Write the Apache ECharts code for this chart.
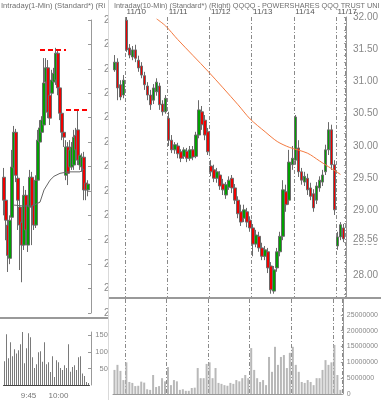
<!DOCTYPE html>
<html><head><meta charset="utf-8">
<script src="https://cdn.jsdelivr.net/npm/echarts@6/dist/echarts.min.js"></script>
<style>html,body{margin:0;padding:0;background:#fff}#c{width:381px;height:400px}</style>
</head><body><div id="c"></div>
<script>
const FONT = "'Liberation Sans',Arial,sans-serif";

// ---------- left panel: 1-minute bars (11/17) ----------
const leftTitle = 'Intraday(1-Min) (Standard*) (Ri';
const leftTimes = ['9:33','9:34','9:35','9:36','9:37','9:38','9:39','9:40','9:41','9:42','9:43','9:44','9:45','9:46','9:47','9:48','9:49','9:50','9:51','9:52','9:53','9:54','9:55','9:56','9:57','9:58','9:59','10:00','10:01','10:02','10:03','10:04','10:05','10:06','10:07','10:08','10:09','10:10','10:11','10:12','10:13','10:14','10:15'];
const leftTickLabels = ['9:45','10:00'];
// [open, close, low, high]
const leftCandles = [
 [28.678,28.631,28.600,28.697],[28.631,28.590,28.549,28.641],[28.580,28.518,28.484,28.594],[28.512,28.590,28.500,28.600],
 [28.596,28.699,28.590,28.734],[28.697,28.770,28.689,28.783],[28.770,28.682,28.668,28.777],[28.676,28.631,28.570,28.682],
 [28.617,28.580,28.488,28.666],[28.586,28.539,28.463,28.600],[28.539,28.641,28.529,28.660],[28.641,28.570,28.545,28.652],
 [28.539,28.621,28.525,28.635],[28.617,28.678,28.555,28.693],[28.678,28.617,28.539,28.689],[28.621,28.580,28.570,28.631],
 [28.580,28.672,28.574,28.682],[28.672,28.754,28.662,28.775],[28.750,28.779,28.734,28.795],[28.770,28.795,28.754,28.803],
 [28.785,28.871,28.775,28.922],[28.873,28.902,28.857,28.922],[28.902,28.811,28.799,28.918],[28.846,28.799,28.785,28.861],
 [28.850,28.877,28.840,28.898],[28.873,28.891,28.857,28.902],[28.877,28.932,28.867,28.943],[28.932,28.861,28.846,28.939],
 [28.861,28.809,28.795,28.867],[28.809,28.770,28.754,28.820],[28.770,28.760,28.740,28.779],[28.682,28.740,28.672,28.754],
 [28.740,28.686,28.662,28.750],[28.699,28.734,28.689,28.754],[28.699,28.740,28.693,28.750],[28.703,28.760,28.693,28.775],
 [28.764,28.734,28.713,28.779],[28.775,28.713,28.703,28.816],[28.703,28.723,28.693,28.734],[28.699,28.719,28.689,28.727],
 [28.719,28.652,28.631,28.730],[28.666,28.652,28.631,28.676],[28.652,28.664,28.639,28.672]
];
// moving average read at a few bars: [bar index, value]
const leftMA = [[5,28.621],[10,28.619],[14,28.619],[18,28.627],[20,28.652],[23,28.672],[25,28.680],[28,28.686],[32,28.689],[38,28.689],[40,28.695]];
const leftVolume = [718,1530,810,1290,870,1080,950,1050,1230,1770,660,1110,1560,1440,840,510,630,990,1020,700,1290,630,690,390,870,240,750,690,510,450,600,510,1230,400,540,600,450,840,870,350,270,90,60];
const leftLevels = [{start:'9:51', end:'10:04', price:28.939},{start:'10:04', end:'10:15', price:28.816}];
const leftPriceRange = [28.40, 29.00, 0.05];
const leftVolumeRange = [0, 1600, 500];

// ---------- right panel: intraday bars, several days ----------
const rightTitle = 'Intraday(10-Min) (Standard*) (Right) QQQQ - POWERSHARES QQQ TRUST UNI';
const days = ['11/07','11/10','11/11','11/12','11/13','11/14','11/17'];
const barsPerDay = [4,14,14,14,14,14,3];
const rightCandles = [
 [31.18,31.30,31.15,31.41],[31.30,30.90,30.71,31.36],[30.95,30.76,30.71,31.02],[30.79,31.02,30.74,31.10],
 [31.95,31.49,31.46,32.00],[31.52,31.41,31.36,31.58],[31.38,31.49,31.33,31.55],[31.49,31.36,31.30,31.57],
 [31.33,31.21,31.15,31.40],[31.24,31.10,31.05,31.30],[31.09,30.95,30.87,31.15],[30.93,30.79,30.71,30.99],
 [30.79,30.64,30.56,30.87],[30.71,30.90,30.65,30.96],[30.84,30.99,30.78,31.05],[30.93,30.64,30.56,30.98],
 [30.65,30.53,30.47,30.71],[30.53,30.74,30.50,30.79],
 [30.43,30.09,30.00,30.53],[30.09,29.94,29.89,30.17],[29.94,30.02,29.88,30.06],[30.00,29.88,29.81,30.05],
 [29.91,29.81,29.75,29.95],[29.84,29.94,29.80,29.98],[29.92,29.81,29.75,29.97],[29.81,29.94,29.77,30.00],
 [29.94,29.83,29.78,30.00],[29.84,30.17,29.81,30.22],[30.17,30.56,30.12,30.71],[30.53,30.33,30.25,30.62],
 [30.40,30.17,30.09,30.48],[30.22,29.91,29.86,30.28],
 [29.69,29.60,29.53,29.78],[29.63,29.50,29.44,29.71],[29.50,29.60,29.43,29.66],[29.55,29.38,29.32,29.61],
 [29.41,29.32,29.24,29.49],[29.24,29.40,29.18,29.44],[29.36,29.47,29.32,29.53],[29.50,29.35,29.27,29.55],
 [29.35,29.16,29.10,29.41],[29.16,28.95,28.88,29.22],[28.98,28.82,28.76,29.09],[28.88,29.01,28.82,29.09],
 [28.98,28.82,28.74,29.04],[28.85,28.73,28.67,28.91],
 [28.73,28.48,28.29,28.79],[28.48,28.62,28.43,28.70],[28.60,28.42,28.36,28.67],[28.42,28.29,28.23,28.50],
 [28.29,28.39,28.23,28.45],[28.36,28.11,28.03,28.42],[28.14,27.77,27.71,28.20],[27.75,28.08,27.71,28.14],
 [28.11,28.36,28.05,28.42],[28.36,28.60,28.29,28.67],[28.60,29.32,28.54,29.47],[29.29,29.09,28.98,29.40],
 [29.16,29.75,29.09,29.94],[29.71,29.81,29.63,30.00],
 [29.78,30.45,29.71,30.48],[29.97,29.60,29.52,30.09],[29.60,29.47,29.40,29.66],[29.44,29.53,29.38,29.60],
 [29.50,29.32,29.24,29.57],[29.35,29.22,29.16,29.43],[29.26,29.04,28.98,29.33],[29.16,29.38,29.10,29.44],
 [29.35,29.47,29.29,29.53],[29.44,29.55,29.38,29.63],[29.60,29.94,29.55,30.02],[29.94,30.25,29.86,30.37],
 [30.25,29.71,29.63,30.33],[29.71,29.01,28.93,29.78],
 [28.45,28.59,28.39,28.67],[28.59,28.78,28.54,28.82],[28.73,28.56,28.51,28.79]
];
// moving average read at some bars: [bar index, value]
const rightMA = [[14,31.97],[17,31.86],[21,31.65],[31,31.16],[41,30.64],[45,30.42],[50,30.22],[54,30.07],[58,29.98],[64,29.89],[68,29.77],[71,29.68],[75,29.56]];
const rightVolume = [
 7600000,9200000,7300000,4400000,
 10000000,3800000,3500000,2500000,2600000,3900000,3600000,1500000,1300000,6000000,2200000,2500000,5000000,4000000,
 8500000,2800000,4400000,4000000,1300000,1500000,1000000,1000000,1900000,2000000,8200000,5000000,5000000,9500000,
 10000000,5000000,8200000,3500000,3200000,2800000,2600000,3500000,3200000,4400000,4000000,5000000,6000000,5000000,
 14500000,7600000,5000000,3800000,4400000,2800000,11700000,7000000,14900000,9200000,11700000,12300000,8200000,13000000,
 14900000,9200000,7000000,3800000,3500000,4400000,3800000,2800000,5000000,5000000,7600000,10700000,9200000,10000000,
 15500000,6000000,1300000
];
const rightPriceTicks = [28.00,28.50,29.00,29.50,30.00,30.50,31.00,31.50,32.00];
const rightPriceRange = [27.6434, 32.00];
const rightVolumeRange = [0, 30000000, 5000000];

// ---------- derived ----------
const rightCats = [];
const dayStart = new Set();
days.forEach((d, k) => {
  for (let j = 0; j < barsPerDay[k]; j++) {
    if (j === 0 && k > 0) dayStart.add(rightCats.length);
    rightCats.push(d + ' ' + (j + 1));
  }
});
const isDayStart = (i) => dayStart.has(i);
const lastClose = rightCandles[rightCandles.length - 1][1];
const minorTicks = [];
for (let v = 27.7; v <= 32.001; v += 0.1) minorTicks.push(+v.toFixed(1));

const dash = [4, 2, 1, 2];
const gray = '#999';
const candleStyle = {color:'#00a000', color0:'#f00000', borderColor:'#6a6a6a', borderColor0:'#6a6a6a', borderWidth:1};

const chart = echarts.init(document.getElementById('c'), null, {renderer:'canvas'});
chart.setOption({
  animation: false,
  backgroundColor: '#fff',
  textStyle: {fontFamily: FONT},
  title: [
    {text: leftTitle, left: 1, top: 2, padding: 0,
     textStyle: {fontSize: 7.6, fontWeight: 'normal', color: '#6f6f6f', fontFamily: FONT}},
    {text: rightTitle, left: 114, top: 2, padding: 0,
     textStyle: {fontSize: 7.3, fontWeight: 'normal', color: '#6f6f6f', fontFamily: FONT}}
  ],
  grid: [
    {left: 3, top: 20, width: 86, height: 293},
    {left: 3.5, top: 332, width: 86, height: 53},
    {left: 113, top: 17, width: 232, height: 281},
    {left: 113, top: 299, width: 232, height: 95}
  ],
  xAxis: [
    {gridIndex: 0, type: 'category', data: leftTimes, show: false},
    {gridIndex: 1, type: 'category', data: leftTimes, position: 'bottom',
     axisLine: {lineStyle: {color: '#444'}},
     axisTick: {interval: 0, length: 3, lineStyle: {color: '#444'}},
     axisLabel: {interval: (i, v) => leftTickLabels.includes(v), fontSize: 8, color: '#777', margin: 7, fontFamily: FONT},
     splitLine: {show: false}},
    {gridIndex: 2, type: 'category', data: rightCats, position: 'top',
     axisLine: {show: false}, axisTick: {show: false},
     axisLabel: {interval: isDayStart, formatter: v => v.split(' ')[0], align: 'left', margin: 1, fontSize: 8, color: '#555', fontFamily: FONT},
     splitLine: {show: true, interval: isDayStart, lineStyle: {color: '#8a8a8a', type: dash, width: 1}}},
    {gridIndex: 3, type: 'category', data: rightCats, position: 'bottom',
     axisLine: {lineStyle: {color: gray}},
     axisTick: {interval: 0, length: 3, lineStyle: {color: gray}},
     axisLabel: {show: false},
     splitLine: {show: true, interval: isDayStart, lineStyle: {color: '#8a8a8a', type: dash, width: 1}}}
  ],
  yAxis: [
    {gridIndex: 0, type: 'value', position: 'right', offset: 2,
     min: leftPriceRange[0], max: leftPriceRange[1], interval: leftPriceRange[2],
     axisLine: {show: true, lineStyle: {color: gray}},
     axisTick: {show: true, inside: true, length: 3, lineStyle: {color: gray}},
     axisLabel: {formatter: v => v.toFixed(2), margin: 13, fontSize: 10, color: '#888', fontFamily: FONT, width: 7, overflow: 'truncate', ellipsis: ''},
     splitLine: {show: false}},
    {gridIndex: 1, type: 'value', position: 'right', offset: 1.5,
     min: leftVolumeRange[0], max: leftVolumeRange[1], interval: leftVolumeRange[2],
     axisLine: {show: true, lineStyle: {color: gray}},
     axisTick: {show: true, inside: true, length: 3, lineStyle: {color: gray}},
     axisLabel: {showMinLabel: false, showMaxLabel: false, formatter: v => String(v), margin: 21, align: 'right', fontSize: 7.5, color: '#888', fontFamily: FONT},
     splitLine: {show: false}},
    {gridIndex: 2, type: 'value', position: 'right', offset: 1,
     min: rightPriceRange[0], max: rightPriceRange[1],
     axisLine: {show: true, lineStyle: {color: gray}},
     axisTick: {show: true, inside: true, length: 2, customValues: minorTicks, lineStyle: {color: gray}},
     axisLabel: {customValues: rightPriceTicks, formatter: v => v.toFixed(2), margin: 7, fontSize: 10, color: '#888', fontFamily: FONT},
     splitLine: {show: false}},
    {gridIndex: 3, type: 'value', position: 'right', offset: 1,
     min: rightVolumeRange[0], max: rightVolumeRange[1], interval: rightVolumeRange[2],
     axisLine: {show: true, lineStyle: {color: gray}},
     axisTick: {show: true, inside: true, length: 2, lineStyle: {color: gray}},
     axisLabel: {showMaxLabel: false, formatter: v => String(v), margin: 4, fontSize: 7, color: '#888', fontFamily: FONT},
     splitLine: {show: false}}
  ],
  series: [
    {type: 'candlestick', xAxisIndex: 0, yAxisIndex: 0, data: leftCandles, barWidth: 3, itemStyle: candleStyle,
     markLine: {silent: true, symbol: 'none', label: {show: false},
       lineStyle: {color: '#ff0000', width: 2, type: [5, 3]},
       data: leftLevels.map(l => [{coord: [l.start, l.price]}, {coord: [l.end, l.price]}])}},
    {type: 'line', xAxisIndex: 0, yAxisIndex: 0, data: leftMA.map(p => [leftTimes[p[0]], p[1]]),
     symbol: 'none', lineStyle: {color: '#666', width: 1}},
    {type: 'bar', xAxisIndex: 1, yAxisIndex: 1, data: leftVolume, barWidth: 1, itemStyle: {color: '#7a7a7a'}},
    {type: 'candlestick', xAxisIndex: 2, yAxisIndex: 2, data: rightCandles, barWidth: 3, itemStyle: candleStyle,
     markLine: {silent: true, symbol: 'none', lineStyle: {color: 'rgba(0,0,0,0)', width: 0},
       label: {show: true, position: 'end', distance: 8, formatter: () => lastClose.toFixed(2), color: '#888', fontSize: 10, fontFamily: FONT, backgroundColor: '#fff'},
       data: [{yAxis: lastClose}]}},
    {type: 'line', xAxisIndex: 2, yAxisIndex: 2, data: rightMA.map(p => [rightCats[p[0]], p[1]]),
     symbol: 'none', smooth: 0.3, lineStyle: {color: '#f47a40', width: 1}},
    {type: 'bar', xAxisIndex: 3, yAxisIndex: 3, data: rightVolume, barWidth: 2, itemStyle: {color: '#b8b8b8'}}
  ],
  graphic: [
    {type: 'rect', silent: true, z: 100, shape: {x: 108, y: 320, width: 4.8, height: 60}, style: {fill: '#fff'}},
    {type: 'line', silent: true, z: 101, shape: {x1: 108.5, y1: 0, x2: 108.5, y2: 400}, style: {stroke: '#d9d9d9', lineWidth: 1}},
    {type: 'line', silent: true, z: 101, shape: {x1: 0, y1: 318, x2: 108, y2: 318}, style: {stroke: '#999', lineWidth: 2}},
    {type: 'line', silent: true, z: 101, shape: {x1: 109, y1: 298, x2: 381, y2: 298}, style: {stroke: '#999', lineWidth: 2}}
  ]
});
</script></body></html>
